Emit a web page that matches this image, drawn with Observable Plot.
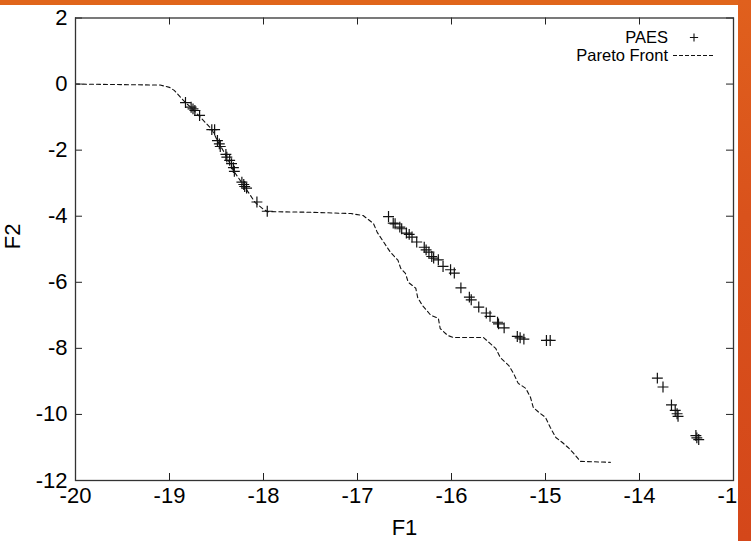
<!DOCTYPE html>
<html>
<head>
<meta charset="utf-8">
<script src="https://cdn.jsdelivr.net/npm/d3@7"></script>
<script src="https://cdn.jsdelivr.net/npm/@observablehq/plot@0.6"></script>
<style>
  html, body { margin: 0; padding: 0; background: #fff; }
  #wrap { position: relative; width: 751px; height: 541px; overflow: hidden; }
  #topbar { position: absolute; left: 0; top: 0; width: 751px; height: 5px; background: #e0651b; }
  #rightbar { position: absolute; left: 738px; top: 0; width: 13px; height: 541px;
    background: linear-gradient(180deg, #e0601d 0%, #d9521c 40%, #d4471a 100%); }
</style>
</head>
<body>
<div id="wrap"></div>
<script>
// ---- data ----
const xTicks = [-20, -19, -18, -17, -16, -15, -14, -13];
const yTicks = [2, 0, -2, -4, -6, -8, -10, -12];

const paretoF1 = [-20, -19.1, -19.0, -18.95, -18.83, -18.76, -18.69, -18.62, -18.55, -18.49, -18.40, -18.32, -18.21, -18.09, -18.01, -17.96, -17.5, -17.07, -16.94, -16.83, -16.79, -16.72, -16.65, -16.57, -16.54, -16.49, -16.46, -16.38, -16.36, -16.31, -16.22, -16.14, -16.12, -16.04, -15.98, -15.66, -15.59, -15.53, -15.48, -15.39, -15.34, -15.29, -15.21, -15.16, -15.13, -15.07, -15.00, -14.95, -14.89, -14.82, -14.76, -14.70, -14.63, -14.31];
const paretoF2 = [0, -0.03, -0.1, -0.19, -0.56, -0.74, -0.95, -1.16, -1.37, -1.71, -2.16, -2.62, -3.07, -3.58, -3.77, -3.86, -3.88, -3.92, -3.98, -4.22, -4.49, -4.79, -5.09, -5.33, -5.58, -5.73, -6.00, -6.18, -6.46, -6.70, -7.00, -7.09, -7.40, -7.61, -7.67, -7.67, -7.85, -8.00, -8.28, -8.52, -8.76, -9.06, -9.21, -9.48, -9.79, -9.94, -10.09, -10.39, -10.70, -10.85, -11.00, -11.18, -11.42, -11.45];

const paesF1 = [-18.83, -18.77, -18.75, -18.73, -18.68, -18.55, -18.52, -18.49, -18.47, -18.46, -18.40, -18.39, -18.36, -18.34, -18.32, -18.31, -18.23, -18.21, -18.20, -18.18, -18.07, -17.96,
  -16.67, -16.62, -16.60, -16.55, -16.53, -16.48, -16.45, -16.42, -16.37, -16.29, -16.27, -16.24, -16.21, -16.19, -16.14, -16.09, -16.01, -15.97, -15.90, -15.81, -15.79, -15.71, -15.63, -15.59, -15.51, -15.50, -15.44, -15.30, -15.27, -15.23, -14.99, -14.95,
  -13.81, -13.75, -13.66, -13.62, -13.60, -13.59, -13.40, -13.39, -13.37];
const paesF2 = [-0.56, -0.70, -0.75, -0.80, -0.95, -1.38, -1.38, -1.71, -1.81, -1.89, -2.13, -2.21, -2.31, -2.41, -2.53, -2.64, -2.97, -3.04, -3.10, -3.15, -3.57, -3.85,
  -4.01, -4.21, -4.23, -4.33, -4.38, -4.51, -4.55, -4.63, -4.78, -4.94, -5.02, -5.09, -5.22, -5.27, -5.32, -5.52, -5.62, -5.72, -6.17, -6.45, -6.53, -6.75, -6.93, -7.03, -7.21, -7.26, -7.38, -7.64, -7.68, -7.72, -7.76, -7.76,
  -8.90, -9.17, -9.71, -9.88, -9.98, -10.06, -10.64, -10.71, -10.76];

const legendLabels = ["PAES", "Pareto Front"];

// ---- tables ----
const pareto = paretoF1.map((x, i) => ({x, y: paretoF2[i]}));
const paes = paesF1.map((x, i) => ({x, y: paesF2[i]}));

const W = 751, H = 541;
const mL = 75, mR = 18, mT = 17.5, mB = 61;
const innerH = H - mT - mB, innerW = W - mL - mR;
const T = 7; // inward tick length
const font = "'Liberation Sans', Arial, Helvetica, sans-serif";
const fmt = d => String(d); // ASCII hyphen-minus like the reference

const chart = Plot.plot({
  width: W, height: H,
  marginLeft: mL, marginRight: mR, marginTop: mT, marginBottom: mB,
  x: {domain: [-20, -13]},
  y: {domain: [-12, 2]},
  style: {fontFamily: font, fontSize: "22px", background: "white", color: "black"},
  marks: [
    Plot.line(pareto, {x: "x", y: "y", stroke: "#111", strokeWidth: 1.1, strokeDasharray: "4,3"}),
    Plot.dot(paes, {x: "x", y: "y", symbol: "plus", r: 3.6, stroke: "#111", strokeWidth: 1.2}),
    // inward ticks (bottom, top, left, right)
    Plot.tickX(xTicks, {x: d => d, insetTop: innerH - T, stroke: "#222"}),
    Plot.tickX(xTicks, {x: d => d, insetBottom: innerH - T, stroke: "#222"}),
    Plot.tickY(yTicks, {y: d => d, insetRight: innerW - T, stroke: "#222"}),
    Plot.tickY(yTicks, {y: d => d, insetLeft: innerW - T, stroke: "#222"}),
    Plot.axisX(xTicks, {tickSize: 0, tickPadding: 7, label: null, fontSize: 22, tickFormat: fmt}),
    Plot.axisY(yTicks, {tickSize: 0, tickPadding: 8, label: null, fontSize: 22, tickFormat: fmt}),
    Plot.frame({stroke: "#333", strokeWidth: 1.3}),
    Plot.text(["F1"], {frameAnchor: "bottom", dy: 54, fontSize: 22, text: d => d}),
    Plot.text(["F2"], {frameAnchor: "left", dx: -63, rotate: -90, fontSize: 22, text: d => d})
  ]
});

// legend (top-right, inside frame)
const svg = d3.select(chart);
const lg = svg.append("g").attr("font-family", font).attr("font-size", 16.5).attr("fill", "black");
const lx = W - mR - 65;
lg.append("text").attr("x", lx).attr("y", mT + 20).attr("text-anchor", "end").attr("dy", "0.35em").text(legendLabels[0]);
lg.append("path").attr("d", d3.symbol(d3.symbolPlus, 24)()).attr("transform", `translate(${lx + 26},${mT + 20})`)
  .attr("fill", "none").attr("stroke", "#111").attr("stroke-width", 1.1);
lg.append("text").attr("x", lx).attr("y", mT + 38).attr("text-anchor", "end").attr("dy", "0.35em").text(legendLabels[1]);
lg.append("line").attr("x1", lx + 5).attr("x2", lx + 45).attr("y1", mT + 38).attr("y2", mT + 38)
  .attr("stroke", "#111").attr("stroke-width", 1.1).attr("stroke-dasharray", "4,2");

const wrap = document.getElementById("wrap");
wrap.appendChild(chart);
const tb = document.createElement("div"); tb.id = "topbar"; wrap.appendChild(tb);
const rb = document.createElement("div"); rb.id = "rightbar"; wrap.appendChild(rb);
</script>
</body>
</html>
